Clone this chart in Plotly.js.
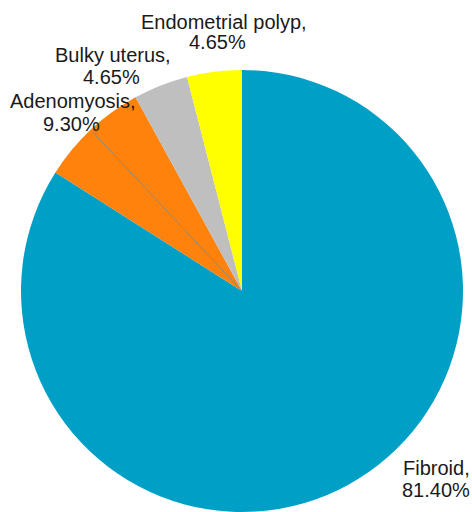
<!DOCTYPE html>
<html>
<head>
<meta charset="utf-8">
<script src="https://cdn.plot.ly/plotly-3.0.1.min.js"></script>
<style>
  html, body { margin: 0; padding: 0; background: #ffffff; }
  #chart { width: 472px; height: 512px; }
</style>
</head>
<body>
<div id="chart"></div>
<script>
// ---- data ----
// category names, clockwise from 12 o'clock
var categories = ['Fibroid', 'Adenomyosis', 'Bulky uterus', 'Endometrial polyp'];
// slice sizes as drawn in the picture (angles measured off the slices)
var sliceValues = [84, 8, 4, 4];
// percentage labels as printed on the chart
var percentLabels = ['81.40%', '9.30%', '4.65%', '4.65%'];
var sliceColors = ['#009fc6', '#fe820b', '#bfbfbf', '#ffff00'];

// ---- layout geometry (pixels) ----
var W = 472, H = 512;
var pieLeft = 20, pieRight = 464, pieHeight = 442;
// label placement: [name line centre x, baseline y, percent line centre x, baseline y]
var labelPos = [
  [436, 475, 435.5, 496.7],
  [73.3, 108.3, 71.8, 130.7],
  [113.3, 61.7, 111.7, 84.3],
  [224.2, 28.8, 217.5, 48.6]
];
var fontSize = 20;
var baselineToMid = 0.3465 * fontSize;

var px = function (x) { return x / W; };
var py = function (y) { return 1 - y / H; };

var annotations = [];
categories.forEach(function (name, i) {
  var p = labelPos[i];
  annotations.push({
    xref: 'paper', yref: 'paper', x: px(p[0]), y: py(p[1] - baselineToMid),
    xanchor: 'center', yanchor: 'middle', showarrow: false, borderpad: 0,
    text: name + ',', font: { family: 'Liberation Sans, Arial, sans-serif', size: fontSize, color: '#1a1a1a' }
  });
  annotations.push({
    xref: 'paper', yref: 'paper', x: px(p[2]), y: py(p[3] - baselineToMid),
    xanchor: 'center', yanchor: 'middle', showarrow: false, borderpad: 0,
    text: percentLabels[i], font: { family: 'Liberation Sans, Arial, sans-serif', size: fontSize, color: '#1a1a1a' }
  });
});

// leader line of the Adenomyosis label: from the pie centre along the slice's mid angle
var total = sliceValues.reduce(function (a, b) { return a + b; }, 0);
var cum = sliceValues[0];
var midFrac = (cum + sliceValues[1] / 2) / total;
var theta = 2 * Math.PI * midFrac;
var cx = (pieLeft + pieRight) / 2;
var r = Math.min(pieRight - pieLeft, pieHeight) / 2;
var cy = H - pieHeight / 2;
var ex = cx + r * 0.99 * Math.sin(theta);
var ey = cy - r * 0.99 * Math.cos(theta);

var trace = {
  type: 'pie',
  labels: categories,
  values: sliceValues,
  sort: false,
  direction: 'clockwise',
  rotation: 0,
  textinfo: 'none',
  hoverinfo: 'label+text',
  hovertext: percentLabels,
  marker: { colors: sliceColors, line: { width: 0 } },
  domain: { x: [pieLeft / W, pieRight / W], y: [0, pieHeight / H] },
  showlegend: false
};

var layout = {
  width: W, height: H,
  margin: { l: 0, r: 0, t: 0, b: 0 },
  paper_bgcolor: '#ffffff',
  showlegend: false,
  annotations: annotations,
  shapes: [{
    type: 'line', xref: 'paper', yref: 'paper',
    x0: px(cx), y0: py(cy), x1: px(ex), y1: py(ey),
    line: { color: '#8f8a78', width: 1 }
  }]
};

Plotly.newPlot('chart', [trace], layout, { displayModeBar: false, staticPlot: true });
</script>
</body>
</html>
